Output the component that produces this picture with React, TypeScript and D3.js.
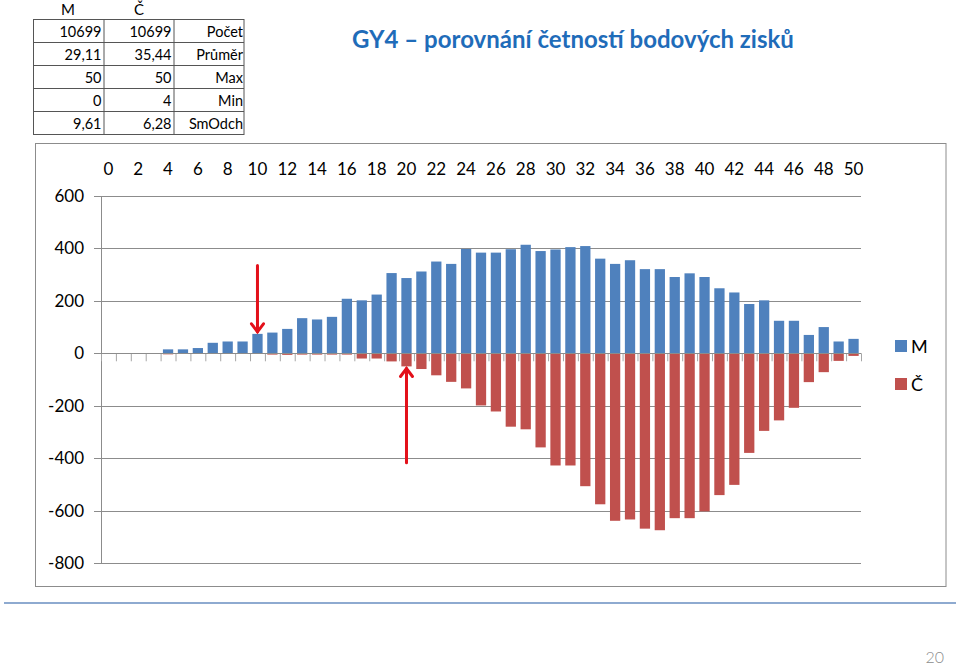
import React from 'react';
import * as d3 from 'd3';

// score categories 0..50
const categories = d3.range(0, 51);
const catLabels = categories.filter(c => c % 2 === 0);

// frequency of each score, M (positive) and Č (plotted negative)
const mCounts = [1, 0, 1, 1, 15, 15, 20, 40, 45, 45, 74, 79, 93, 134, 129, 139, 208, 202, 224, 306, 287, 312, 350, 341, 398, 384,
  384, 397, 414, 390, 396, 405, 409, 361, 341, 355, 321, 321, 291, 305, 291, 248, 232, 188, 202, 124, 124, 70, 100, 45, 55];
const cCounts = [0, 0, 0, 0, 4, 0, 0, 0, 0, 0, 0, 5, 6, 5, 5, 5, 5, 20, 20, 31, 50, 60, 84, 109, 134, 199,
  222, 280, 290, 359, 428, 428, 507, 576, 639, 634, 669, 675, 629, 629, 603, 541, 502, 380, 296, 256, 208, 110, 72, 29, 10];

const yTicks = [600, 400, 200, 0, -200, -400, -600, -800];

// summary table
const statLabels = ['Počet', 'Průměr', 'Max', 'Min', 'SmOdch'];
const mStats = ['10699', '29,11', '50', '0', '9,61'];
const cStats = ['10699', '35,44', '50', '4', '6,28'];

const series = [
  { name: 'M', color: '#4f81bd' },
  { name: 'Č', color: '#c0504d' },
];

const font = 'Lato, "Open Sans", sans-serif';

export default function App() {
  const x = d3.scaleBand<number>().domain(categories).range([101, 861]).paddingInner(0.31).paddingOuter(0.155);
  const y = d3.scaleLinear().domain([-800, 600]).range([563, 196]);
  const step = x.step();
  const bw = x.bandwidth();
  const cx = (c: number) => (x(c) as number) + bw / 2;
  const y0 = y(0);

  const arrows = [
    { cat: 10, from: 335, to: mCounts[10] + 8, dir: 1 },
    { cat: 20, from: -418, to: -cCounts[20] - 8, dir: -1 },
  ];

  const rowTop = (i: number) => 19 + i * 23;

  return (
    <div style={{ position: 'absolute', left: 0, top: 0 }}>
      <svg width={960} height={665} style={{ display: 'block', fontFamily: font }}>
        <rect width={960} height={665} fill="#fff" />

        {/* summary table */}
        <g fontSize={14.5} fill="#000">
          <text x={68} y={15} textAnchor="middle" fontSize={15}>M</text>
          <text x={139} y={15} textAnchor="middle" fontSize={15}>Č</text>
          {statLabels.map((lab, i) => (
            <g key={lab}>
              <text x={101.5} y={rowTop(i) + 18} textAnchor="end">{mStats[i]}</text>
              <text x={171.5} y={rowTop(i) + 18} textAnchor="end">{cStats[i]}</text>
              <text x={243} y={rowTop(i) + 18} textAnchor="end">{lab}</text>
            </g>
          ))}
          <g stroke="#555" strokeWidth={1} fill="none">
            <rect x={33.5} y={19.5} width={210.5} height={115} />
            {[1, 2, 3, 4].map(i => (
              <line key={i} x1={33.5} x2={244} y1={rowTop(i) + 0.5} y2={rowTop(i) + 0.5} />
            ))}
            <line x1={104} x2={104} y1={19.5} y2={134.5} />
            <line x1={174} x2={174} y1={19.5} y2={134.5} />
          </g>
        </g>

        {/* title */}
        <text x={573} y={48} textAnchor="middle" fontSize={24} fontWeight="bold" fill="#1f6cb9">
          GY4 – porovnání četností bodových zisků
        </text>

        {/* chart frame */}
        <rect x={35.5} y={143.5} width={910.5} height={443} fill="none" stroke="#8c8c8c" />

        {/* gridlines and y axis */}
        {yTicks.map(t => (
          <g key={t}>
            <line x1={94} x2={861} y1={Math.round(y(t)) + 0.5} y2={Math.round(y(t)) + 0.5} stroke="#8c8c8c" />
            <text x={84} y={y(t) + 6} textAnchor="end" fontSize={17}>{t}</text>
          </g>
        ))}
        <line x1={101.5} x2={101.5} y1={y(600)} y2={y(-800)} stroke="#8c8c8c" />

        {/* category labels on top */}
        {catLabels.map(c => (
          <text key={c} x={cx(c)} y={175} textAnchor="middle" fontSize={17}>{c}</text>
        ))}

        {/* bars */}
        {categories.map((c, i) => (
          <g key={c}>
            {mCounts[i] > 0 && (
              <rect x={x(c)} y={y(mCounts[i])} width={bw} height={y0 - y(mCounts[i])} fill={series[0].color} />
            )}
            {cCounts[i] > 0 && (
              <rect x={x(c)} y={y0} width={bw} height={y(-cCounts[i]) - y0} fill={series[1].color} />
            )}
          </g>
        ))}

        {/* category ticks on zero line */}
        {d3.range(0, 52).map(i => (
          <line key={i} x1={101.5 + i * step} x2={101.5 + i * step} y1={y0} y2={y0 + 8} stroke="#a6a6a6" />
        ))}
        <line x1={101} x2={861} y1={Math.round(y0) + 0.5} y2={Math.round(y0) + 0.5} stroke="#8c8c8c" />

        {/* annotation arrows */}
        {arrows.map(a => {
          const ax = cx(a.cat);
          const tip = y(a.to);
          return (
            <g key={a.cat} stroke="#e3101a" strokeWidth={3} fill="none" strokeLinecap="round">
              <line x1={ax} x2={ax} y1={y(a.from)} y2={tip} />
              <polyline points={`${ax - 6},${tip - a.dir * 8} ${ax},${tip} ${ax + 6},${tip - a.dir * 8}`} />
            </g>
          );
        })}

        {/* legend */}
        {series.map((s, i) => (
          <g key={s.name} transform={`translate(895,${340 + i * 38})`}>
            <rect width={12} height={12} fill={s.color} />
            <text x={16} y={12.5} fontSize={18}>{s.name}</text>
          </g>
        ))}

        {/* slide footer */}
        <line x1={4} x2={956} y1={603} y2={603} stroke="#8eaad0" strokeWidth={2} />
        <text x={944} y={663} textAnchor="end" fontSize={16} fill="#8c8c8c" fontWeight={300}>20</text>
      </svg>
    </div>
  );
}
